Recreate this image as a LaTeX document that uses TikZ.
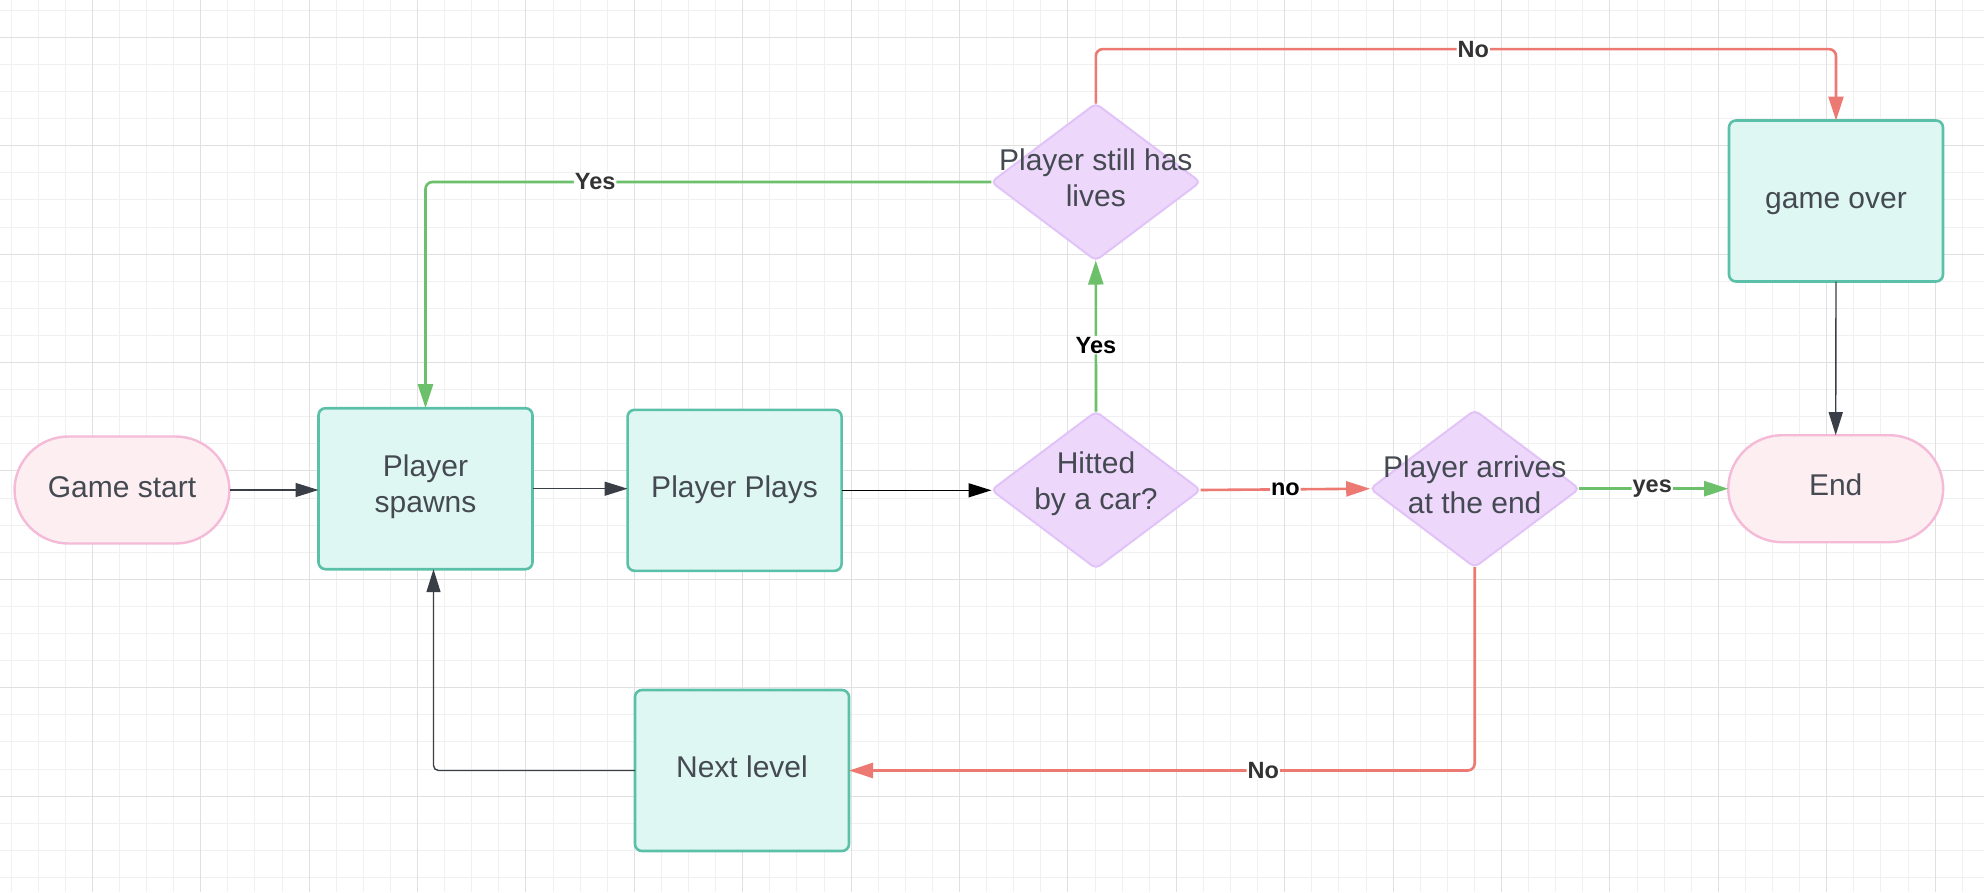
\documentclass[tikz,border=0pt]{standalone}
\usepackage{fontspec}
\setmainfont{Liberation Sans}
\usetikzlibrary{shapes.geometric,arrows.meta,calc}
\definecolor{gridminor}{HTML}{F0F0F0}
\definecolor{gridmajor}{HTML}{E0E0E0}
\definecolor{boxfill}{HTML}{DEF7F3}
\definecolor{boxline}{HTML}{5BC0A8}
\definecolor{pinkfill}{HTML}{FCEEF1}
\definecolor{pinkline}{HTML}{F4BAD7}
\definecolor{diafill}{HTML}{EDD7FB}
\definecolor{dialine}{HTML}{E1C3F8}
\definecolor{redc}{HTML}{EC7A72}
\definecolor{greenc}{HTML}{6CC06A}
\definecolor{darkc}{HTML}{3A3F47}
\definecolor{txtc}{HTML}{454A52}
\definecolor{lblc}{HTML}{333333}
\tikzset{
  nodefont/.style={align=center, text=txtc, font=\fontsize{30}{36}\selectfont,
    execute at begin node=\strut, execute at end node=\strut},
  procbox/.style={nodefont, draw=boxline, fill=boxfill, line width=2.6pt, rounded corners=7pt,
    minimum width=214pt, minimum height=161pt, inner sep=0pt, outer sep=0pt},
  termbox/.style={nodefont, draw=pinkline, fill=pinkfill, line width=2.4pt, rounded corners=54pt,
    minimum width=215pt, minimum height=107pt, inner sep=0pt, outer sep=0pt},
  diabox/.style={diamond, draw=dialine, fill=diafill, line width=2pt, rounded corners=5pt,
    minimum width=209pt, minimum height=157pt, inner sep=0pt, outer sep=0pt},
  diatext/.style={nodefont, inner sep=0pt},
  darkline/.style={draw=darkc, line width=1.4pt, -{Triangle[length=23pt,width=14pt]}, rounded corners=5pt},
  blackline/.style={draw=black, line width=1.4pt, -{Triangle[length=23pt,width=14pt]}},
  redline/.style={draw=redc, line width=2.6pt, -{Triangle[length=24pt,width=15pt]}, rounded corners=7pt},
  greenline/.style={draw=greenc, line width=2.6pt, -{Triangle[length=24pt,width=15pt]}, rounded corners=7pt},
  lbl/.style={fill=white, text=lblc, font=\bfseries\fontsize{23.5}{28}\selectfont, inner sep=1pt},
  lblk/.style={lbl, text=black},
}
\begin{document}
\begin{tikzpicture}[x=1pt,y=-1pt]
\useasboundingbox (0,0) rectangle (1984,892);
\fill[white] (0,0) rectangle (1984,892);
% grid
\foreach \i in {0,...,72} {
  \draw[gridminor, line width=1pt] ({11+27.1*\i},0) -- ({11+27.1*\i},892);
}
\foreach \j in {0,...,32} {
  \draw[gridminor, line width=1pt] (0,{10.2+27.1*\j}) -- (1984,{10.2+27.1*\j});
}
\foreach \k in {0,...,17} {
  \draw[gridmajor, line width=1pt] ({92.3+108.4*\k},0) -- ({92.3+108.4*\k},892);
}
\foreach \k in {0,...,7} {
  \draw[gridmajor, line width=1pt] (0,{37.3+108.4*\k}) -- (1984,{37.3+108.4*\k});
}
% nodes
\node[termbox] (gs) at (122,490) {Game start};
\node[procbox] (spawns) at (425.5,488.7) {Player\\spawns};
\node[procbox] (plays) at (734.6,490.3) {Player Plays};
\node[diabox] (hit) at (1096,490) {};
\node[diatext] (hitt) at (1096,486) {Hitted\\by a car?};
\node[diabox] (lives) at (1095.8,182) {};
\node[diatext] (livest) at (1095.8,183.5) {Player still has\\lives};
\node[diabox] (arr) at (1474.7,488.7) {};
\node[diatext] (arrt) at (1474.7,490) {Player arrives\\at the end};
\node[procbox] (gover) at (1836,201) {game over};
\node[termbox] (endn) at (1835.7,488.7) {End};
\node[procbox] (next) at (742,770.5) {Next level};
% connectors
\draw[darkline] (gs.east) -- (gs.east -| spawns.west);
\draw[darkline] (spawns.east) -- (spawns.east -| plays.west);
\draw[blackline] (plays.east) -- (plays.east -| hit.west);
\draw[greenline] (hit.north) -- node[lblk, pos=0.44] {Yes} (lives.south);
\draw[redline] (lives.north) -- ++(0,-54.4) -| node[lbl, pos=0.255] {No} (gover.north);
\draw[greenline] (lives.west) -| node[lbl, pos=0.35] {Yes} (spawns.north);
\draw[redline] (hit.east) -- node[lblk, pos=0.5] {no} (arr.west);
\draw[greenline] (arr.east) -- node[lbl, pos=0.49] {yes} (endn.west);
\draw[darkline] (gover.south) -- (endn.north);
\draw[redline] (arr.south) |- node[lbl, pos=0.669] {No} (next.east);
\draw[darkline] (next.west) -| ([xshift=8pt]spawns.south);
\end{tikzpicture}
\end{document}
